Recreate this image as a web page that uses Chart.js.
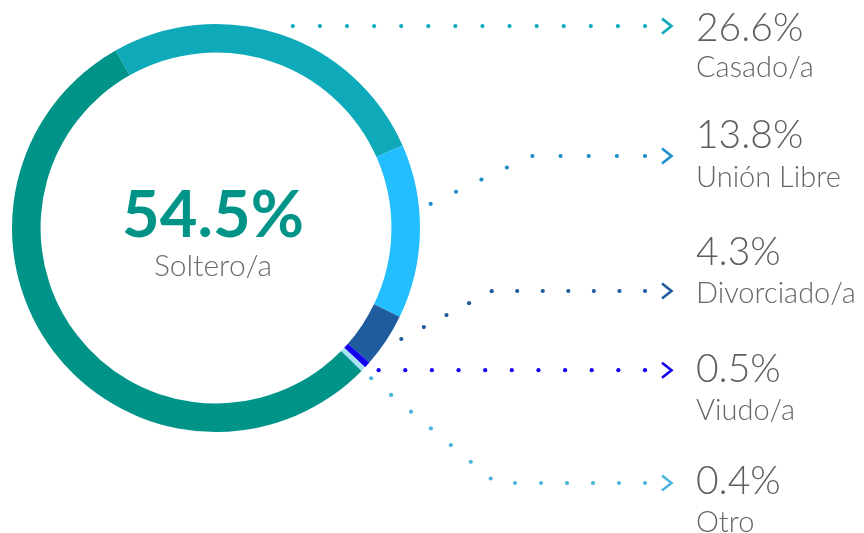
<!DOCTYPE html>
<html>
<head>
<meta charset="utf-8">
<script src="https://cdn.jsdelivr.net/npm/chart.js@4/dist/chart.umd.min.js"></script>
<style>
  html, body { margin: 0; padding: 0; background: #ffffff; }
  #wrap { width: 864px; height: 533px; position: relative; }
</style>
</head>
<body>
<div id="wrap"><canvas id="c" width="864" height="533"></canvas></div>
<script>
// ---- data ----
const categories = ['Casado/a', 'Unión Libre', 'Divorciado/a', 'Viudo/a', 'Otro', 'Soltero/a'];
const values = [26.6, 13.8, 4.3, 0.5, 0.4, 54.5];
const sliceColors = ['#0FAAB9', '#22BEFF', '#1F5C9E', '#1400EE', '#A6E4F5', '#009488'];
const leaderColors = ['#12A9BE', '#1B8DCB', '#1F5C9E', '#1400EE', '#4AB4DC'];
const centerIndex = 5; // Soltero/a shown in the middle

// ---- annotation layout (not data) ----
const leaderNudgeDeg = [2.5, -7.4, -2.6, -1.0, 0.3];
const leaderRowY = [null, 156, 291, null, 483];
const leaderKneeX = [null, 531, 492, null, 496];
const pctBaseline = [41, 148, 265, 382, 494];
const labelBaseline = [77, 187, 303, 420, 532];
const leaderEndX = 645;
const arrowX = 662;
const textX = 696;

const FONT = 'Lato, "Open Sans", "Noto Sans", sans-serif';

function fmtPct(v) { return v.toFixed(1) + '%'; }

const annotations = {
  id: 'annotations',
  afterDraw(chart) {
    const ctx = chart.ctx;
    const arcs = chart.getDatasetMeta(0).data;
    const cx = arcs[0].x, cy = arcs[0].y;

    // center text
    ctx.save();
    ctx.textAlign = 'center';
    ctx.textBaseline = 'alphabetic';
    ctx.fillStyle = sliceColors[centerIndex];
    ctx.font = 'bold 65px ' + FONT;
    ctx.fillText(fmtPct(values[centerIndex]), cx - 3, cy + 9);
    ctx.fillStyle = '#6b6b6b';
    ctx.font = '300 30px ' + FONT;
    ctx.fillText(categories[centerIndex], cx - 3, cy + 48);
    ctx.restore();

    for (let i = 0; i < 5; i++) {
      const a = arcs[i];
      const mid = (a.startAngle + a.endAngle) / 2 + leaderNudgeDeg[i] * Math.PI / 180;
      const r = a.outerRadius + 12;
      const sx = a.x + Math.cos(mid) * r;
      const sy = a.y + Math.sin(mid) * r;
      const rowY = leaderRowY[i] == null ? sy : leaderRowY[i];
      const pts = [[sx, sy]];
      if (leaderKneeX[i] != null) pts.push([leaderKneeX[i], rowY]);
      pts.push([leaderEndX, rowY]);

      const segs = [];
      let L = 0;
      for (let k = 1; k < pts.length; k++) {
        const d = Math.hypot(pts[k][0] - pts[k-1][0], pts[k][1] - pts[k-1][1]);
        segs.push(d); L += d;
      }
      const n = Math.max(1, Math.round(L / 26.6));
      const step = L / n;
      ctx.save();
      ctx.fillStyle = leaderColors[i];
      for (let j = 0; j <= n; j++) {
        let t = j * step, k = 0;
        while (k < segs.length - 1 && t > segs[k]) { t -= segs[k]; k++; }
        const f = segs[k] ? Math.min(1, t / segs[k]) : 0;
        const px = pts[k][0] + (pts[k+1][0] - pts[k][0]) * f;
        const py = pts[k][1] + (pts[k+1][1] - pts[k][1]) * f;
        ctx.beginPath();
        ctx.arc(px, py, 2.1, 0, Math.PI * 2);
        ctx.fill();
      }
      // chevron
      ctx.strokeStyle = leaderColors[i];
      ctx.lineWidth = 2.6;
      ctx.lineJoin = 'miter';
      ctx.lineCap = 'butt';
      ctx.beginPath();
      ctx.moveTo(arrowX, rowY - 7.5);
      ctx.lineTo(arrowX + 9.5, rowY);
      ctx.lineTo(arrowX, rowY + 7.5);
      ctx.stroke();

      // texts
      ctx.textAlign = 'left';
      ctx.textBaseline = 'alphabetic';
      ctx.fillStyle = '#5e5e5e';
      ctx.font = '300 39px ' + FONT;
      ctx.fillText(fmtPct(values[i]), textX, pctBaseline[i]);
      ctx.fillStyle = '#666666';
      ctx.font = '300 29px ' + FONT;
      ctx.fillText(categories[i], textX, labelBaseline[i]);
      ctx.restore();
    }
  }
};

new Chart(document.getElementById('c'), {
  type: 'doughnut',
  data: {
    labels: categories,
    datasets: [{
      data: values,
      backgroundColor: sliceColors,
      borderWidth: 0,
      hoverOffset: 0
    }]
  },
  options: {
    responsive: false,
    animation: false,
    rotation: -29.5,
    cutout: '86%',
    layout: { padding: { left: 12, top: 24, right: 444, bottom: 101 } },
    events: [],
    plugins: { legend: { display: false }, tooltip: { enabled: false } }
  },
  plugins: [annotations]
});
</script>
</body>
</html>
